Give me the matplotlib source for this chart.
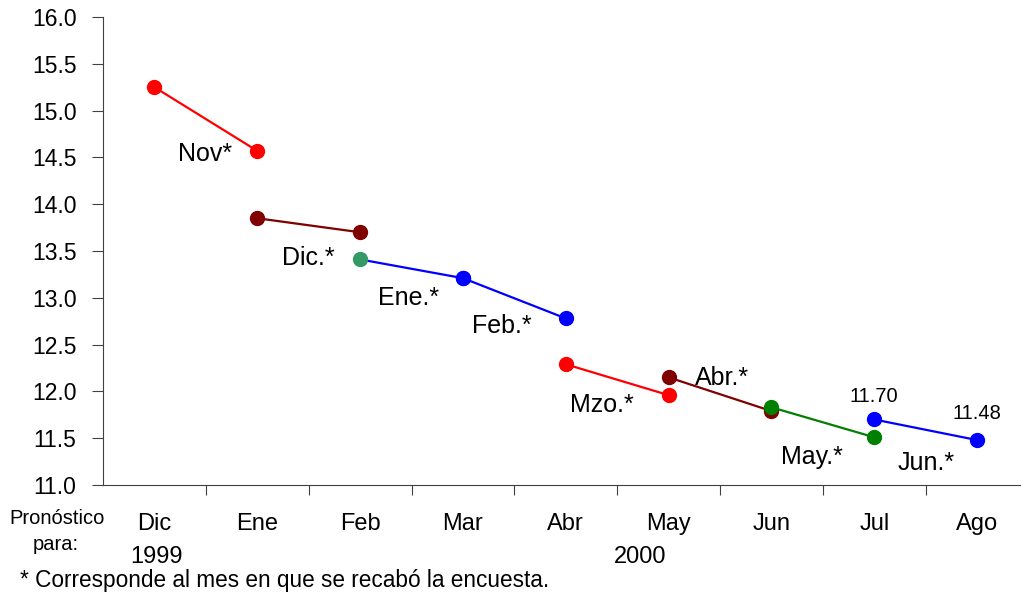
import matplotlib
matplotlib.use("Agg")
import matplotlib.pyplot as plt

plt.rcParams['font.family'] = ['Liberation Sans', 'DejaVu Sans']

months = ["Dic", "Ene", "Feb", "Mar", "Abr", "May", "Jun", "Jul", "Ago"]

# Each survey: forecasts for two months (x indices into months)
survey_labels = ["Nov*", "Dic.*", "Ene.*", "Feb.*", "Mzo.*", "Abr.*", "May.*", "Jun.*"]
survey_x = [[0, 1], [1, 2], [2, 3], [3, 4], [4, 5], [5, 6], [6, 7], [7, 8]]
survey_vals = [
    [15.25, 14.57],
    [13.85, 13.70],
    [13.41, 13.21],
    [13.21, 12.78],
    [12.29, 11.96],
    [12.15, 11.79],
    [11.83, 11.51],
    [11.70, 11.48],
]
line_colors = ["#FF0000", "#800000", "#0000FF", "#0000FF", "#FF0000", "#800000", "#008000", "#0000FF"]
first_marker_colors = ["#FF0000", "#800000", "#339966", "#0000FF", "#FF0000", "#800000", "#008000", "#0000FF"]

# label anchor points (data coords)
label_pos = [(0.49, 14.54), (1.5, 13.43), (2.47, 13.00), (3.38, 12.70),
             (4.35, 11.86), (5.52, 12.14), (6.39, 11.30), (7.5, 11.24)]

yticks = [11.0, 11.5, 12.0, 12.5, 13.0, 13.5, 14.0, 14.5, 15.0, 15.5, 16.0]

W, H = 1021, 592
fig = plt.figure(figsize=(W / 100, H / 100), dpi=100)
ax = fig.add_axes([103 / W, 1 - 485 / H, (1028.5 - 103) / W, (485 - 17) / H])

for xs, vs, lc, mc in zip(survey_x, survey_vals, line_colors, first_marker_colors):
    ax.plot(xs, vs, color=lc, lw=1.6, zorder=2)
    ax.plot(xs[1:], vs[1:], 'o', color=lc, ms=10, zorder=3)
    ax.plot(xs[:1], vs[:1], 'o', color=mc, ms=10, zorder=3)

for lab, (lx, ly) in zip(survey_labels, label_pos):
    ax.text(lx, ly, lab, fontsize=18, ha='center', va='center', color='black')

# data labels for last survey
last_x, last_v = survey_x[-1], survey_vals[-1]
ax.text(last_x[0], last_v[0] + 0.25, f"{last_v[0]:.2f}", fontsize=14.5, ha='center', va='center')
ax.text(last_x[1], last_v[1] + 0.28, f"{last_v[1]:.2f}", fontsize=14.5, ha='center', va='center')

ax.set_xlim(-0.5, 8.5)
ax.set_ylim(11.0, 16.0)
ax.set_yticks(yticks)
ax.set_yticklabels([f"{t:.1f}" for t in yticks], fontsize=16.5)
ax.set_xticks([i + 0.5 for i in range(len(months) - 1)])
ax.set_xticklabels([])
ax.tick_params(axis='x', direction='out', length=7, color='#404040')
ax.tick_params(axis='y', direction='out', length=8, color='#404040', pad=11)
for s in ['top', 'right']:
    ax.spines[s].set_visible(False)
ax.spines['left'].set_color('#404040')
ax.spines['bottom'].set_color('#404040')

# month labels, placed under each category centre
for i, m in enumerate(months):
    xd = ax.transData.transform((i, 11.0))[0]
    fig.text(xd / W, 1 - 524 / H, m, fontsize=17, ha='center', va='center')

fig.text(57 / W, 1 - 518 / H, "Pronóstico", fontsize=14.5, ha='center', va='center')
fig.text(56 / W, 1 - 544 / H, "para:", fontsize=14.5, ha='center', va='center')
fig.text(156 / W, 1 - 557 / H, "1999", fontsize=17, ha='center', va='center')
fig.text(640 / W, 1 - 557 / H, "2000", fontsize=17, ha='center', va='center')
fig.text(20 / W, 1 - 580 / H, "* Corresponde al mes en que se recabó la encuesta.",
         fontsize=16.3, ha='left', va='center')

fig.savefig("out.png", dpi=100)
